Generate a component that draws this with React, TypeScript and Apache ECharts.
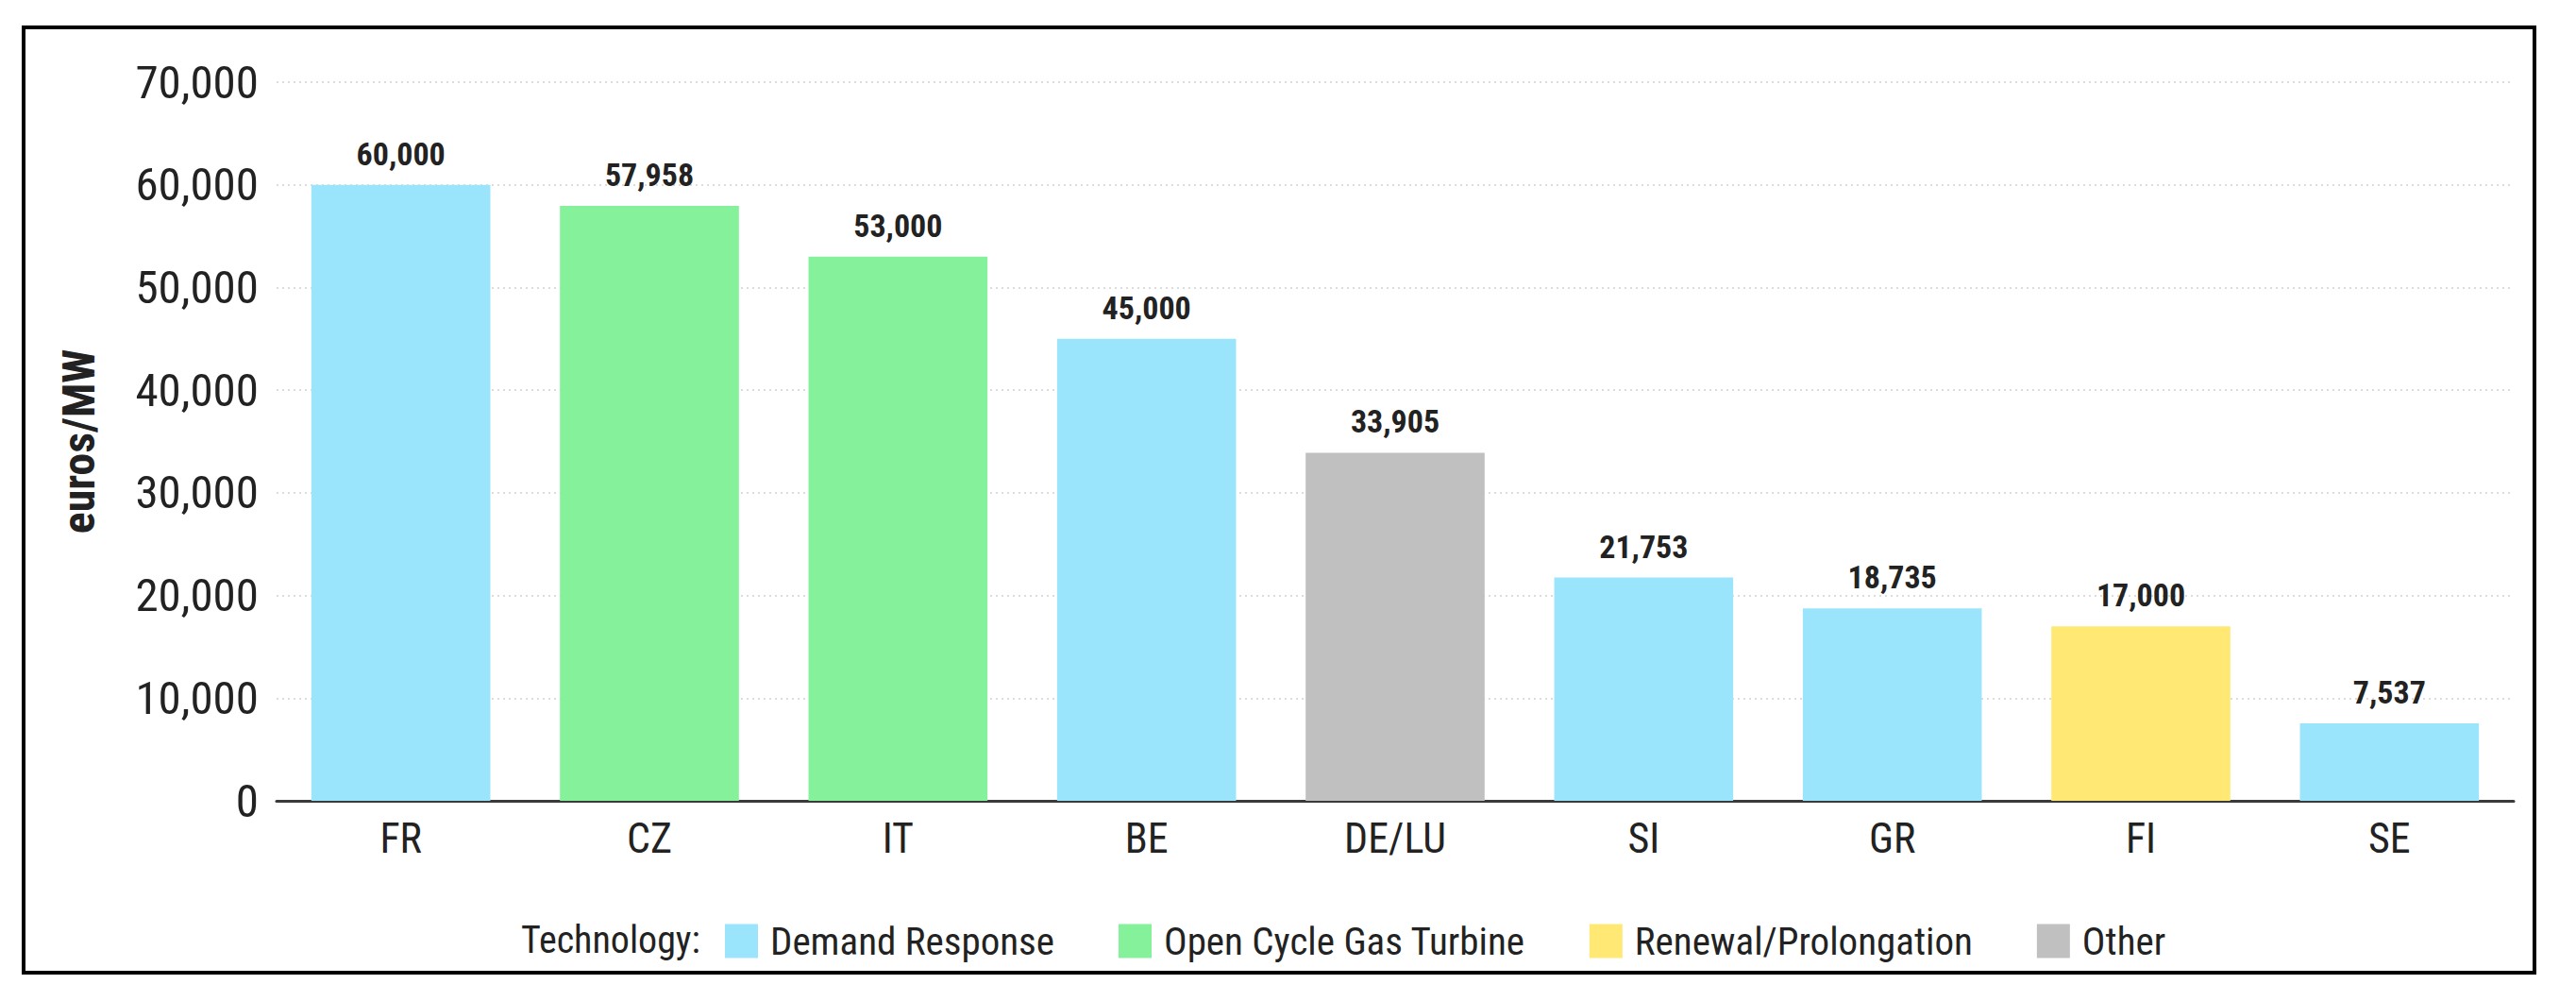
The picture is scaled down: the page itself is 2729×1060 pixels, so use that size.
import React, { useEffect, useRef } from "react";
import * as echarts from "echarts";

const categories = ["FR", "CZ", "IT", "BE", "DE/LU", "SI", "GR", "FI", "SE"];
const values = [60000, 57958, 53000, 45000, 33905, 21753, 18735, 17000, 7537];
const technologyOf = [
  "Demand Response",
  "Open Cycle Gas Turbine",
  "Open Cycle Gas Turbine",
  "Demand Response",
  "Other",
  "Demand Response",
  "Demand Response",
  "Renewal/Prolongation",
  "Demand Response",
];
const technologies = ["Demand Response", "Open Cycle Gas Turbine", "Renewal/Prolongation", "Other"];
const techColors = ["#9be5fc", "#85f29b", "#ffe873", "#c0c0c0"];
const yTicks = { min: 0, max: 70000, interval: 10000 };

const FONT = "'Liberation Sans Narrow', 'Arial Narrow', 'Roboto Condensed', 'DejaVu Sans Condensed', sans-serif";
const TXT = "#222222";

const fmt = (v: number) => v.toLocaleString("en-US");

export default function App() {
  const ref = useRef<HTMLDivElement>(null);
  useEffect(() => {
    document.body.style.margin = "0";
    if (!ref.current) return;
    const chart = echarts.init(ref.current, null, { renderer: "svg" });
    const series = technologies.map((tech, ti) => ({
      name: tech,
      type: "bar",
      stack: "total",
      barWidth: "72%",
      itemStyle: { color: techColors[ti] },
      label: {
        show: true,
        position: "top",
        distance: 16,
        fontFamily: FONT,
        fontWeight: "bold",
        fontSize: 34,
        color: TXT,
        formatter: (p: any) => fmt(p.value),
      },
      data: values.map((v, i) => (technologyOf[i] === tech ? v : "-")),
    }));
    chart.setOption({
      animation: false,
      backgroundColor: "#ffffff",
      grid: { left: 293, right: 66, top: 87, bottom: 212 },
      xAxis: {
        type: "category",
        data: categories,
        axisLine: { show: true, lineStyle: { color: "#3a3a3a", width: 3 } },
        axisTick: { show: false },
        axisLabel: { fontFamily: FONT, fontSize: 44, color: TXT, margin: 18 },
      },
      yAxis: {
        type: "value",
        min: yTicks.min,
        max: yTicks.max,
        interval: yTicks.interval,
        name: "euros/MW",
        nameLocation: "middle",
        nameGap: 186,
        nameTextStyle: { fontFamily: FONT, fontWeight: "bold", fontSize: 48, color: TXT },
        axisLine: { show: false },
        axisTick: { show: false },
        axisLabel: { fontFamily: FONT, fontSize: 49, color: TXT, margin: 19, formatter: (v: number) => fmt(v) },
        splitLine: { show: true, lineStyle: { color: "#dcdcdc", width: 2, type: [2, 4] } },
      },
      legend: {
        left: 768,
        top: 976,
        padding: 0,
        itemWidth: 35,
        itemHeight: 36,
        itemGap: 68,
        icon: "rect",
        data: technologies,
        textStyle: { fontFamily: FONT, fontSize: 41, color: TXT, lineHeight: 36, padding: [0, 0, 0, 8] },
      },
      graphic: [
        {
          type: "rect",
          shape: { x: 25, y: 29, width: 2660, height: 1001 },
          style: { fill: "none", stroke: "#000000", lineWidth: 4 },
          silent: true,
        },
        {
          type: "text",
          x: 552,
          y: 995,
          style: {
            text: "Technology:",
            fontFamily: FONT,
            fontSize: 40,
            fill: TXT,
            textAlign: "left",
            textVerticalAlign: "middle",
          },
        },
      ],
      series,
    });
    return () => chart.dispose();
  }, []);
  return (
    <div
      ref={ref}
      style={{ position: "fixed", left: 0, top: 0, width: "2729px", height: "1060px", background: "#fff" }}
    />
  );
}
